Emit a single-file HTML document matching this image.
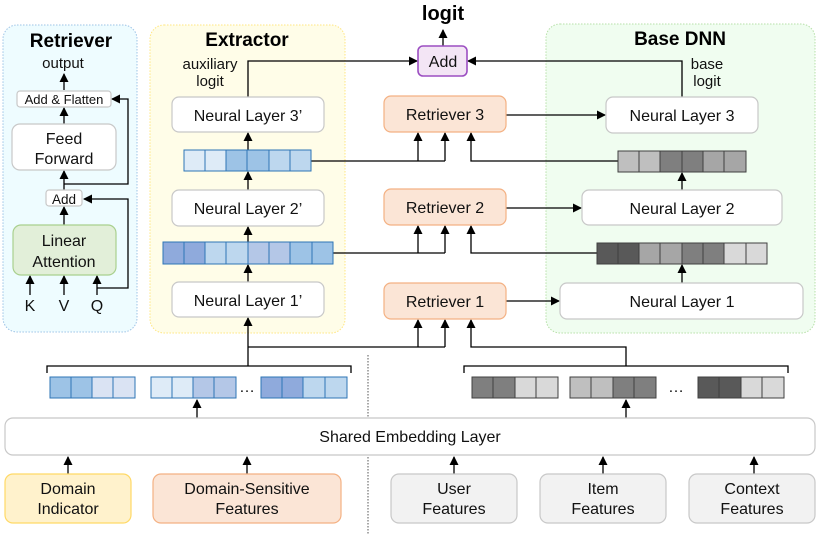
<!DOCTYPE html>
<html><head><meta charset="utf-8"><style>
html,body{margin:0;padding:0;background:#fff;}
svg{display:block;font-family:"Liberation Sans",Arial,sans-serif;}
</style></head><body>
<svg width="821" height="535" viewBox="0 0 821 535" xmlns="http://www.w3.org/2000/svg">
<defs>
<marker id="a" markerWidth="9" markerHeight="9" refX="8" refY="4.5" orient="auto" markerUnits="userSpaceOnUse">
<path d="M0,0 L9,4.5 L0,9 z" fill="#000"/></marker>
</defs>
<rect x="3" y="25" width="134" height="307" rx="14" fill="#eefcff" stroke="#9dc3e6" stroke-dasharray="1.5,1.5"/>
<rect x="150" y="25" width="195" height="308" rx="14" fill="#fffde8" stroke="#ffe680" stroke-dasharray="1.5,1.5"/>
<rect x="546" y="24" width="269" height="309" rx="14" fill="#f0fdf0" stroke="#b6e0a8" stroke-dasharray="1.5,1.5"/>
<g font-weight="bold" font-size="19" text-anchor="middle">
<text x="71" y="47">Retriever</text>
<text x="247" y="46">Extractor</text>
<text x="680" y="45">Base DNN</text>
<text x="443" y="20" font-size="20">logit</text>
</g>
<g stroke="#000" stroke-width="1.3" fill="none">
<path d="M64,90 V74" marker-end="url(#a)"/>
<path d="M64,124 V108" marker-end="url(#a)"/>
<path d="M64,190 V171" marker-end="url(#a)"/>
<path d="M64,184 H128 V99 H112" marker-end="url(#a)"/>
<path d="M64,225 V207" marker-end="url(#a)"/>
<path d="M97,288 H128 V199 H84" marker-end="url(#a)"/>
<path d="M30,295 V276" marker-end="url(#a)"/>
<path d="M64,295 V276" marker-end="url(#a)"/>
<path d="M97,295 V276" marker-end="url(#a)"/>
<path d="M248,347 V318" marker-end="url(#a)"/>
<path d="M248,282 V265" marker-end="url(#a)"/>
<path d="M248,264 V227" marker-end="url(#a)"/>
<path d="M248,190 V172" marker-end="url(#a)"/>
<path d="M248,171 V133" marker-end="url(#a)"/>
<path d="M248,97 V61 H417" marker-end="url(#a)"/>
<path d="M682,97 V61 H468" marker-end="url(#a)"/>
<path d="M443,46 V30" marker-end="url(#a)"/>
<path d="M311,161 H445"/>
<path d="M418,161 V133" marker-end="url(#a)"/>
<path d="M445,161 V133" marker-end="url(#a)"/>
<path d="M618,161 H471 V133" marker-end="url(#a)"/>
<path d="M333,253 H445"/>
<path d="M418,253 V226" marker-end="url(#a)"/>
<path d="M445,253 V226" marker-end="url(#a)"/>
<path d="M597,253 H471 V226" marker-end="url(#a)"/>
<path d="M248,347 H445"/>
<path d="M418,347 V320" marker-end="url(#a)"/>
<path d="M445,347 V320" marker-end="url(#a)"/>
<path d="M626,366 V347 H471 V320" marker-end="url(#a)"/>
<path d="M248,366 V347"/>
<path d="M47,373 V366 H351 V373"/>
<path d="M464,373 V366 H788 V373"/>
<path d="M506,115 H605" marker-end="url(#a)"/>
<path d="M506,208 H581" marker-end="url(#a)"/>
<path d="M506,301 H559" marker-end="url(#a)"/>
<path d="M682,190 V173" marker-end="url(#a)"/>
<path d="M682,283 V265" marker-end="url(#a)"/>
<path d="M197,418 V400" marker-end="url(#a)"/>
<path d="M626,418 V400" marker-end="url(#a)"/>
<path d="M68,474 V457" marker-end="url(#a)"/>
<path d="M247,474 V457" marker-end="url(#a)"/>
<path d="M454,474 V457" marker-end="url(#a)"/>
<path d="M603,474 V457" marker-end="url(#a)"/>
<path d="M754,474 V457" marker-end="url(#a)"/>
</g>
<line x1="368" y1="355" x2="368" y2="535" stroke="#555" stroke-dasharray="1.5,1.5"/>
<g stroke-width="1.2">
<rect x="17" y="91" width="94" height="16" rx="3" fill="#fff" stroke="#c8c8c8"/>
<rect x="12" y="124" width="104" height="46" rx="8" fill="#fff" stroke="#c8c8c8"/>
<rect x="46" y="190" width="36" height="16" rx="3" fill="#fff" stroke="#c8c8c8"/>
<rect x="13" y="225" width="103" height="50" rx="8" fill="#e2efd9" stroke="#a9d08e"/>
<rect x="172" y="97" width="152" height="35" rx="7" fill="#fff" stroke="#c8c8c8"/>
<rect x="172" y="190" width="152" height="36" rx="7" fill="#fff" stroke="#c8c8c8"/>
<rect x="172" y="282" width="152" height="35" rx="7" fill="#fff" stroke="#c8c8c8"/>
<rect x="418" y="46" width="49" height="30" rx="5" fill="#f3e5f5" stroke="#9c4fc2" stroke-width="1.6"/>
<rect x="384" y="96" width="122" height="36" rx="7" fill="#fbe5d6" stroke="#f4b183"/>
<rect x="384" y="189" width="122" height="36" rx="7" fill="#fbe5d6" stroke="#f4b183"/>
<rect x="384" y="283" width="122" height="36" rx="7" fill="#fbe5d6" stroke="#f4b183"/>
<rect x="606" y="97" width="152" height="36" rx="7" fill="#fff" stroke="#c8c8c8"/>
<rect x="582" y="190" width="200" height="35" rx="7" fill="#fff" stroke="#c8c8c8"/>
<rect x="560" y="283" width="243" height="36" rx="7" fill="#fff" stroke="#c8c8c8"/>
<rect x="5" y="418" width="810" height="37" rx="8" fill="#fff" stroke="#c8c8c8"/>
<rect x="5" y="474" width="126" height="49" rx="8" fill="#fff2cc" stroke="#ffd966"/>
<rect x="153" y="474" width="188" height="49" rx="8" fill="#fbe5d6" stroke="#f4b183"/>
<rect x="391" y="474" width="126" height="49" rx="8" fill="#f2f2f2" stroke="#c8c8c8"/>
<rect x="540" y="474" width="126" height="49" rx="8" fill="#f2f2f2" stroke="#c8c8c8"/>
<rect x="689" y="474" width="126" height="49" rx="8" fill="#f2f2f2" stroke="#c8c8c8"/>
</g>
<g stroke="#2e75b6" stroke-width="1">
<rect x="184" y="150" width="21" height="21" fill="#deebf7"/><rect x="205" y="150" width="21" height="21" fill="#deebf7"/><rect x="226" y="150" width="21" height="21" fill="#9dc3e6"/><rect x="247" y="150" width="22" height="21" fill="#9dc3e6"/><rect x="269" y="150" width="21" height="21" fill="#bdd7ee"/><rect x="290" y="150" width="21" height="21" fill="#bdd7ee"/>
<rect x="163" y="242" width="21" height="22" fill="#8faadc"/><rect x="184" y="242" width="21" height="22" fill="#8faadc"/><rect x="205" y="242" width="21" height="22" fill="#bdd7ee"/><rect x="226" y="242" width="22" height="22" fill="#bdd7ee"/><rect x="248" y="242" width="21" height="22" fill="#b4c7e7"/><rect x="269" y="242" width="21" height="22" fill="#b4c7e7"/><rect x="290" y="242" width="22" height="22" fill="#9dc3e6"/><rect x="312" y="242" width="21" height="22" fill="#9dc3e6"/>
<rect x="50" y="377" width="21" height="21" fill="#9dc3e6"/><rect x="71" y="377" width="21" height="21" fill="#9dc3e6"/><rect x="92" y="377" width="21" height="21" fill="#dae3f3"/><rect x="113" y="377" width="22" height="21" fill="#dae3f3"/>
<rect x="151" y="377" width="21" height="21" fill="#deebf7"/><rect x="172" y="377" width="21" height="21" fill="#deebf7"/><rect x="193" y="377" width="21" height="21" fill="#b4c7e7"/><rect x="214" y="377" width="22" height="21" fill="#b4c7e7"/>
<rect x="261" y="377" width="21" height="21" fill="#8faadc"/><rect x="282" y="377" width="21" height="21" fill="#8faadc"/><rect x="303" y="377" width="22" height="21" fill="#bdd7ee"/><rect x="325" y="377" width="22" height="21" fill="#bdd7ee"/>
</g>
<g stroke="#404040" stroke-width="1">
<rect x="618" y="151" width="21" height="21" fill="#bfbfbf"/><rect x="639" y="151" width="21" height="21" fill="#bfbfbf"/><rect x="660" y="151" width="22" height="21" fill="#7f7f7f"/><rect x="682" y="151" width="21" height="21" fill="#7f7f7f"/><rect x="703" y="151" width="21" height="21" fill="#a6a6a6"/><rect x="724" y="151" width="22" height="21" fill="#a6a6a6"/>
<rect x="597" y="243" width="21" height="21" fill="#595959"/><rect x="618" y="243" width="21" height="21" fill="#595959"/><rect x="639" y="243" width="21" height="21" fill="#a6a6a6"/><rect x="660" y="243" width="22" height="21" fill="#a6a6a6"/><rect x="682" y="243" width="21" height="21" fill="#7f7f7f"/><rect x="703" y="243" width="21" height="21" fill="#7f7f7f"/><rect x="724" y="243" width="22" height="21" fill="#d9d9d9"/><rect x="746" y="243" width="21" height="21" fill="#d9d9d9"/>
<rect x="472" y="377" width="21" height="21" fill="#7f7f7f"/><rect x="493" y="377" width="22" height="21" fill="#7f7f7f"/><rect x="515" y="377" width="21" height="21" fill="#d9d9d9"/><rect x="536" y="377" width="22" height="21" fill="#d9d9d9"/>
<rect x="570" y="377" width="21" height="21" fill="#bfbfbf"/><rect x="591" y="377" width="22" height="21" fill="#bfbfbf"/><rect x="613" y="377" width="21" height="21" fill="#7f7f7f"/><rect x="634" y="377" width="22" height="21" fill="#7f7f7f"/>
<rect x="698" y="377" width="21" height="21" fill="#595959"/><rect x="719" y="377" width="22" height="21" fill="#595959"/><rect x="741" y="377" width="21" height="21" fill="#d9d9d9"/><rect x="762" y="377" width="22" height="21" fill="#d9d9d9"/>
</g>
<g font-size="16" text-anchor="middle" fill="#111">
<text x="63" y="68" font-size="15">output</text>
<text x="64" y="104" font-size="13">Add &amp; Flatten</text>
<text x="64" y="144">Feed</text>
<text x="64" y="164">Forward</text>
<text x="64" y="204" font-size="13.5">Add</text>
<text x="64" y="246">Linear</text>
<text x="64" y="267">Attention</text>
<text x="30" y="311">K</text><text x="64" y="311">V</text><text x="97" y="311">Q</text>
<text x="210" y="69" font-size="15">auxiliary</text>
<text x="210" y="86" font-size="15">logit</text>
<text x="707" y="69" font-size="15">base</text>
<text x="707" y="86" font-size="15">logit</text>
<text x="248" y="121">Neural Layer 3’</text>
<text x="248" y="214">Neural Layer 2’</text>
<text x="248" y="306">Neural Layer 1’</text>
<text x="443" y="67">Add</text>
<text x="445" y="120">Retriever 3</text>
<text x="445" y="213">Retriever 2</text>
<text x="445" y="307">Retriever 1</text>
<text x="682" y="121">Neural Layer 3</text>
<text x="682" y="214">Neural Layer 2</text>
<text x="682" y="307">Neural Layer 1</text>
<text x="247" y="392">…</text><text x="676" y="392">…</text>
<text x="410" y="442">Shared Embedding Layer</text>
<text x="68" y="494">Domain</text><text x="68" y="514">Indicator</text>
<text x="247" y="494">Domain-Sensitive</text><text x="247" y="514">Features</text>
<text x="454" y="494">User</text><text x="454" y="514">Features</text>
<text x="603" y="494">Item</text><text x="603" y="514">Features</text>
<text x="752" y="494">Context</text><text x="752" y="514">Features</text>
</g>
</svg>
</body></html>
